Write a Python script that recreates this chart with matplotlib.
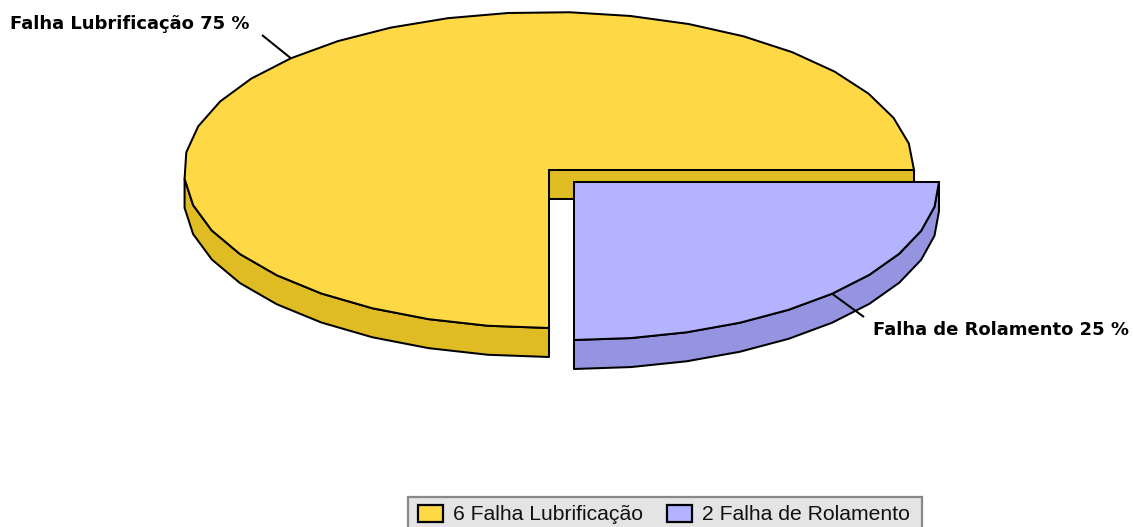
import numpy as np
import matplotlib
matplotlib.use('Agg')
import matplotlib.pyplot as plt
from matplotlib.patches import Polygon, Rectangle

# data
names = ['Falha Lubrificação', 'Falha de Rolamento']
values = [6, 2]
percent_labels = ['Falha Lubrificação 75 %', 'Falha de Rolamento 25 %']

top_colors = ['#FFD945', '#B3B3FF']
side_colors = ['#DFBB24', '#9494E0']

# pie geometry in pixels
cx, cy = 549, 170
rx, ry = 365, 158
depth = 29
explode = [(0, 0), (25, 12)]
facets = [28, 10]
leader_ends = [(262, 35), (864, 317)]
label_pos = [(10, 24), (873, 330)]
lw = 1.45

fig = plt.figure(figsize=(11.33, 5.27), dpi=100)
ax = fig.add_axes([0, 0, 1, 1])
ax.set_xlim(0, 1133)
ax.set_ylim(527, 0)
ax.axis('off')

total = sum(values)
start = 0.0
for i, value in enumerate(values):
    sweep = 360.0 * value / total
    ang = np.linspace(start, start + sweep, facets[i] + 1)
    x0 = cx + explode[i][0]
    y0 = cy + explode[i][1]
    xs = x0 + rx * np.cos(np.radians(ang))
    ys = y0 - ry * np.sin(np.radians(ang))

    # wall seen through the cut, only for the slice starting at 0
    if start == 0 and start + sweep > 180:
        ax.add_patch(Polygon([(x0, y0), (x0 + rx, y0), (x0 + rx, y0 + depth), (x0, y0 + depth)],
                             fc=side_colors[i], ec='black', lw=lw, zorder=1 + i * 3, joinstyle='miter'))

    # outer rim on the front half
    front = ang >= 180
    rim = list(zip(xs[front], ys[front])) + list(zip(xs[front][::-1], ys[front][::-1] + depth))
    ax.add_patch(Polygon(rim, fc=side_colors[i], ec='black', lw=lw, zorder=2 + i * 3, joinstyle='round'))

    # top face
    top = [(x0, y0)] + list(zip(xs, ys))
    ax.add_patch(Polygon(top, fc=top_colors[i], ec='black', lw=lw, zorder=3 + i * 3, joinstyle='miter'))

    # leader line from the middle of the slice
    mid = np.radians(start + sweep / 2)
    ax.plot([x0 + rx * np.cos(mid), leader_ends[i][0]],
            [y0 - ry * np.sin(mid), leader_ends[i][1]],
            color='black', lw=lw, zorder=10, solid_capstyle='butt')
    ax.text(label_pos[i][0], label_pos[i][1], percent_labels[i], fontsize=13,
            fontweight='bold', family='DejaVu Sans', va='center', ha='left', color='black')
    start += sweep

# legend box
ax.add_patch(Rectangle((408, 497), 514, 35, fc='#E4E4E4', ec='#888888', lw=1.6, clip_on=True))
swatch_x = [418, 667]
text_x = [453, 702]
for i in range(len(values)):
    ax.add_patch(Rectangle((swatch_x[i], 505), 25, 17, fc=top_colors[i], ec='black', lw=1.6, zorder=2))
    ax.text(text_x[i], 514.5, f'{values[i]} {names[i]}', fontsize=15.2, family='Liberation Sans',
            va='center', ha='left', color='#111111')

fig.savefig('out.png', dpi=100)
